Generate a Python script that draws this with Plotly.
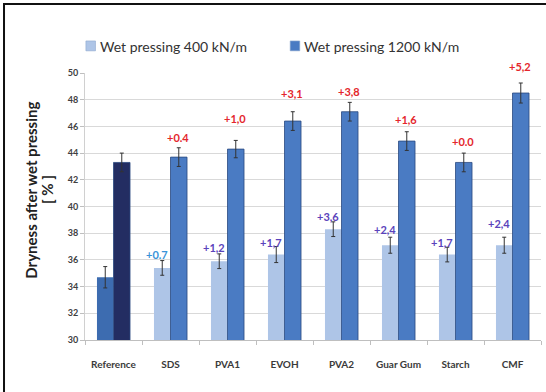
import plotly.graph_objects as go

# Dryness after wet pressing for each additive, at two press loads
categories = ["Reference", "SDS", "PVA1", "EVOH", "PVA2", "Guar Gum", "Starch", "CMF"]
dry_400 = [34.7, 35.4, 35.9, 36.4, 38.3, 37.1, 36.4, 37.1]
dry_1200 = [43.3, 43.7, 44.3, 46.4, 47.1, 44.9, 43.3, 48.5]
err_400 = [0.8, 0.55, 0.55, 0.6, 0.55, 0.6, 0.55, 0.6]
err_1200 = [0.7, 0.7, 0.65, 0.7, 0.7, 0.7, 0.7, 0.75]

# Gain over the reference sheet, as printed above the bars
gain_400 = ["", "+0.7", "+1,2", "+1,7", "+3,6", "+2,4", "+1,7", "+2,4"]
gain_1200 = ["", "+0.4", "+1,0", "+3,1", "+3,8", "+1,6", "+0.0", "+5,2"]

# Height of each gain label above its bar (data units)
lift_400 = [0, 1.0, 1.0, 0.9, 0.95, 1.15, 0.9, 1.6]
lift_1200 = [0, 1.45, 2.3, 2.1, 1.5, 1.6, 1.6, 2.0]

Y_MIN, Y_MAX = 30, 50
PLOT_H = 392 - 73 - 52  # plot area height in px

LIGHT = "#aec5e7"
MID = "#4a7bc3"
REF_LIGHT = "#3d6cb0"
REF_DARK = "#232d62"
RED = "#e4262c"
PURPLE = "#5a43bb"
SKY = "#3a93d8"
FONT = "Lato"

fig = go.Figure()

fig.add_trace(go.Bar(
    x=categories, y=dry_400, name="Wet pressing 400 kN/m",
    marker=dict(color=[REF_LIGHT] + [LIGHT] * (len(categories) - 1),
                line=dict(width=0)),
    error_y=dict(type="data", array=err_400, color="#333333",
                 thickness=1, width=2),
    showlegend=False,
))
fig.add_trace(go.Bar(
    x=categories, y=dry_1200, name="Wet pressing 1200 kN/m",
    marker=dict(color=[REF_DARK] + [MID] * (len(categories) - 1),
                line=dict(width=0.8, color="#2b4a80")),
    error_y=dict(type="data", array=err_1200, color="#333333",
                 thickness=1, width=2),
    showlegend=False,
))


def label_pos(level):
    """Keep the anchor inside the axis range and shift the rest in pixels."""
    y = min(level, Y_MAX)
    shift = (level - y) * PLOT_H / (Y_MAX - Y_MIN)
    return y, shift


annotations = []
for i, cat in enumerate(categories):
    if gain_400[i]:
        y, shift = label_pos(dry_400[i] + lift_400[i])
        annotations.append(dict(
            x=cat, y=y, xref="x", yref="y", yshift=shift,
            text=f"<b>{gain_400[i]}</b>", showarrow=False,
            xshift=-14, font=dict(family=FONT, size=11,
                                  color=SKY if i == 1 else PURPLE)))
    if gain_1200[i]:
        y, shift = label_pos(dry_1200[i] + lift_1200[i])
        annotations.append(dict(
            x=cat, y=y, xref="x", yref="y", yshift=shift,
            text=f"<b>{gain_1200[i]}</b>", showarrow=False,
            xshift=7, font=dict(family=FONT, size=11, color=RED)))

# Y-axis title, two rotated lines
for text, xp in (("Dryness after wet pressing", -0.119), ("[ % ]", -0.083)):
    annotations.append(dict(
        x=xp, y=0.562, xref="paper", yref="paper",
        text=f"<b>{text}</b>", textangle=-90, showarrow=False,
        xanchor="center", yanchor="middle",
        font=dict(family=FONT, size=15, color="#222222")))

# Legend entries
legend_items = [("Wet pressing 400 kN/m", LIGHT, 0.002),
                ("Wet pressing 1200 kN/m", MID, 0.450)]
shapes = []
for label, color, x0 in legend_items:
    shapes.append(dict(type="rect", xref="paper", yref="paper",
                       x0=x0, x1=x0 + 0.021, y0=1.083, y1=1.12,
                       fillcolor=color, line=dict(width=0.6, color="#8fa9cf")))
    annotations.append(dict(
        x=x0 + 0.026, y=1.101, xref="paper", yref="paper",
        xanchor="left", yanchor="middle", text=label, showarrow=False,
        font=dict(family=FONT, size=14, color="#333333")))

# Frame around the whole chart
shapes.append(dict(type="rect", xref="paper", yref="paper",
                   x0=-0.1776, x1=1.3, y0=-0.5, y1=1.258,
                   line=dict(width=2, color="#111111"), fillcolor="rgba(0,0,0,0)",
                   layer="above"))

fig.update_layout(
    width=546, height=392,
    margin=dict(l=85, r=5, t=73, b=52),
    paper_bgcolor="white", plot_bgcolor="white",
    barmode="group", bargap=0.42, bargroupgap=0,
    font=dict(family=FONT, color="#404040"),
    annotations=annotations, shapes=shapes,
    xaxis=dict(
        showline=True, linecolor="#bfbfbf", linewidth=1,
        ticks="outside", ticklen=4, tickcolor="#bfbfbf",
        tickson="boundaries", ticklabelstandoff=15,
        tickfont=dict(family=FONT, size=10, color="#3a3a3a", weight="bold"),
        showgrid=False,
    ),
    yaxis=dict(
        range=[Y_MIN, Y_MAX], dtick=2,
        showgrid=True, gridcolor="#d9d9d9", gridwidth=1,
        showline=True, linecolor="#d0d0d0", linewidth=1,
        ticks="outside", ticklen=4, tickcolor="#bfbfbf",
        tickfont=dict(family=FONT, size=9, color="#404040", weight="bold"),
        zeroline=False,
    ),
)

fig.write_html("out.html")
